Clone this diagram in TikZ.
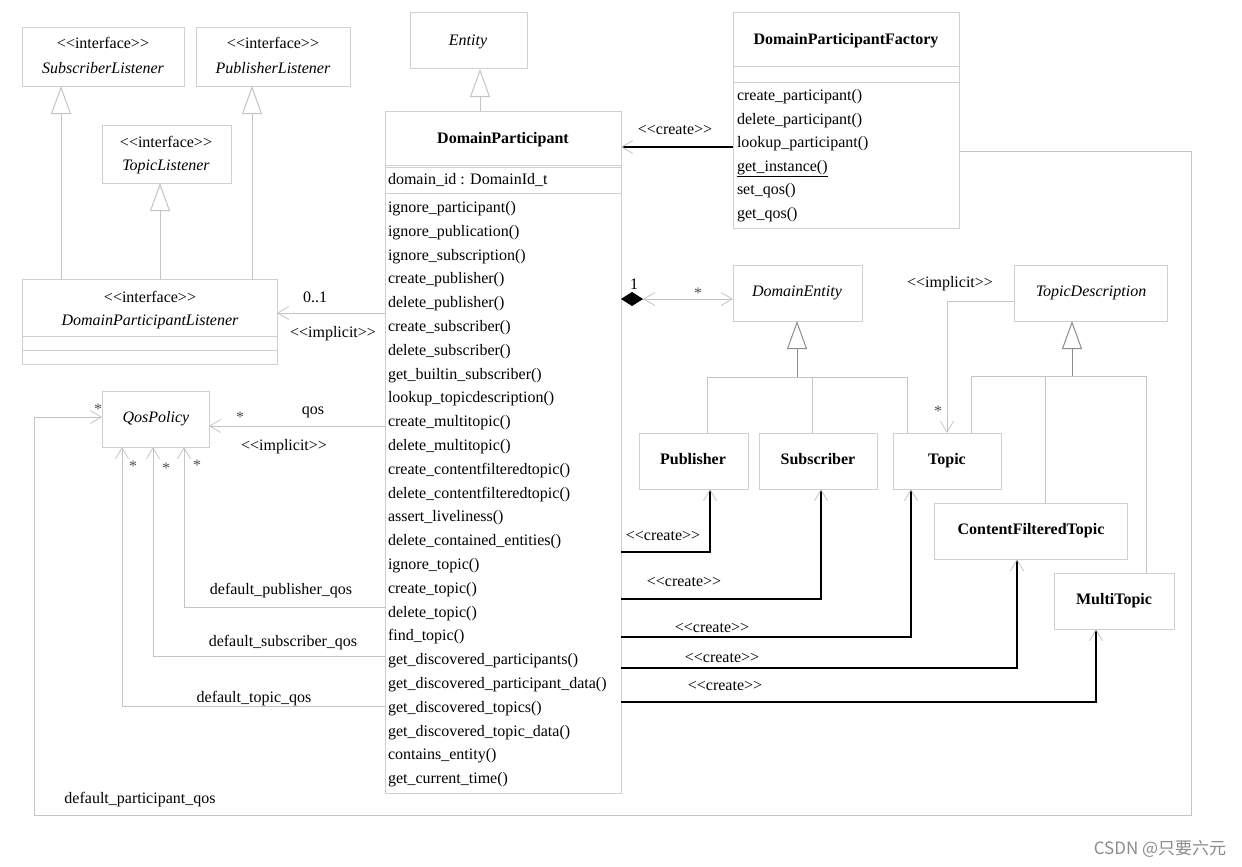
\documentclass[tikz,border=0pt]{standalone}
\usepackage{fontspec}
\setmainfont{Liberation Serif}
\newfontfamily\cjk{Noto Sans CJK SC}
\usetikzlibrary{arrows.meta,fit}
\definecolor{boxgray}{HTML}{D0D0D0}
\definecolor{lngray}{HTML}{C4C4C4}
\definecolor{midgray}{HTML}{8C8C8C}
\definecolor{stargray}{HTML}{505050}
\newcommand\stereo[1]{<\kern0pt<#1>\kern0pt>}
\begin{document}
\begin{tikzpicture}[x=1pt,y=-1pt,
  every node/.style={inner sep=0pt, outer sep=0pt, font=\fontsize{16}{24}\selectfont},
  box/.style={draw=boxgray, line width=1pt, inner sep=0pt},
  txt/.style={text height=13pt, text depth=2pt},
  meth/.style={txt, anchor=west},
  star/.style={txt, text=stargray},
  sep/.style={draw=boxgray, line width=1pt},
  gen/.style={draw=lngray, line width=1pt, -{Triangle[length=28pt, width=20pt, fill=white]}},
  genm/.style={draw=midgray, line width=1pt, -{Triangle[length=28pt, width=20pt, fill=white, color=midgray]}},
  tree/.style={draw=lngray, line width=1pt},
  assoc/.style={draw=lngray, line width=1pt, -{Straight Barb[length=11pt, width=13pt, line width=0.8pt]}},
  create/.style={draw=black, line width=1.6pt, -{Straight Barb[length=11pt, width=13pt, line width=0.8pt, color=lngray]}}
]
\useasboundingbox (0,0) rectangle (1242,867);

% ---------- listener interfaces ----------
\node[box, fit={(22,28) (184,86)}] (sl) {};
\node[txt] (slst) at (103,43) {\stereo{interface}};
\node[txt] (sln) at (103,68) {\textit{SubscriberListener}};
\node[box, fit={(196,28) (350,86)}] (pl) {};
\node[txt] (plst) at (273,43) {\stereo{interface}};
\node[txt] (pln) at (273,68) {\textit{PublisherListener}};
\node[box, fit={(102,125) (231,183)}] (tl) {};
\node[txt] (tlst) at (166,142) {\stereo{interface}};
\node[txt] (tln) at (166,165) {\textit{TopicListener}};
\node[box, fit={(22,279) (277,364)}] (dpl) {};
\node[txt] (dplst) at (150,297) {\stereo{interface}};
\node[txt] (dpln) at (150,320) {\textit{DomainParticipantListener}};
\draw[sep] (dpl.west |- 0,336) -- (dpl.east |- 0,336);
\draw[sep] (dpl.west |- 0,350) -- (dpl.east |- 0,350);

\draw[gen] (dpl.north -| 61,0) -- (sl.south -| 61,0);
\draw[gen] (dpl.north -| 252,0) -- (pl.south -| 252,0);
\draw[gen] (dpl.north -| 160,0) -- (tl.south -| 160,0);

% ---------- Entity ----------
\node[box, fit={(410,13) (527,69)}] (ent) {};
\node[txt] (entn) at (468,40) {\textit{Entity}};

% ---------- DomainParticipant ----------
\node[box, fit={(385,111) (621,793)}] (dp) {};
\node[txt] (dpn) at (503,138) {\textbf{DomainParticipant}};
\draw[sep] (dp.west |- 0,165) -- (dp.east |- 0,165);
\draw[sep] (dp.west |- 0,167) -- (dp.east |- 0,167);
\draw[sep] (dp.west |- 0,193) -- (dp.east |- 0,193);
\node[meth] (dpattr) at (388,179) {domain\_id : DomainId\_t};
\foreach \m [count=\i from 0] in {ignore\_participant(), ignore\_publication(), ignore\_subscription(), create\_publisher(), delete\_publisher(), create\_subscriber(), delete\_subscriber(), get\_builtin\_subscriber(), lookup\_topicdescription(), create\_multitopic(), delete\_multitopic(), create\_contentfilteredtopic(), delete\_contentfilteredtopic(), assert\_liveliness(), delete\_contained\_entities(), ignore\_topic(), create\_topic(), delete\_topic(), find\_topic(), get\_discovered\_participants(), get\_discovered\_participant\_data(), get\_discovered\_topics(), get\_discovered\_topic\_data(), contains\_entity(), get\_current\_time()}
  \node[meth] (dpm\i) at (388,{207+23.8*\i}) {\m};

\draw[gen] (dp.north -| 480,0) -- (ent.south -| 480,0);

% ---------- DomainParticipantFactory ----------
\node[box, fit={(733,13) (959,228)}] (fac) {};
\node[txt] (facn) at (846,39) {\textbf{DomainParticipantFactory}};
\draw[sep] (fac.west |- 0,67) -- (fac.east |- 0,67);
\draw[sep] (fac.west |- 0,82) -- (fac.east |- 0,82);
\foreach \m [count=\i from 0] in {create\_participant(), delete\_participant(), lookup\_participant(), \underline{get\_instance()}, set\_qos(), get\_qos()}
  \node[meth] (facm\i) at (737,{95+23.6*\i}) {\m};

\draw[create] (fac.west |- 0,147) -- (dp.east |- 0,147);
\node[txt] (lcrf) at (675,129) {\stereo{create}};

% ---------- DomainEntity / TopicDescription ----------
\node[box, fit={(733,265) (862,321)}] (de) {};
\node[txt] (den) at (797,291) {\textit{DomainEntity}};
\node[box, fit={(1014,265) (1167,321)}] (td) {};
\node[txt] (tdn) at (1091,291) {\textit{TopicDescription}};

\draw[draw=lngray, line width=1pt,
  {Diamond[length=22pt, width=14pt, fill=black, color=black] Straight Barb[length=11pt, width=13pt, line width=0.8pt, color=lngray]}-{Straight Barb[length=11pt, width=13pt, line width=0.8pt]}]
  (dp.east |- 0,299) -- (de.west |- 0,299);
\node[txt] (lone) at (634,284) {1};
\node[star] (lstde) at (698,293) {*};

% ---------- Publisher / Subscriber / Topic ----------
\node[box, fit={(639,433) (748,489)}] (pub) {};
\node[txt] (pubn) at (693,459) {\textbf{Publisher}};
\node[box, fit={(759,433) (877,489)}] (sub) {};
\node[txt] (subn) at (818,459) {\textbf{Subscriber}};
\node[box, fit={(893,433) (1001,489)}] (top) {};
\node[txt] (topn) at (947,459) {\textbf{Topic}};
\node[box, fit={(934,503) (1127,559)}] (cft) {};
\node[txt] (cftn) at (1031,529) {\textbf{ContentFilteredTopic}};
\node[box, fit={(1054,573) (1174,629)}] (mt) {};
\node[txt] (mtn) at (1114,599) {\textbf{MultiTopic}};

% generalization DomainEntity
\draw[tree] (pub.north -| 707,0) -- (707,377) -- (907,377) -- (top.north -| 907,0);
\draw[tree] (812,377) -- (sub.north -| 812,0);
\draw[genm] (797,377) -- (de.south -| 797,0);
% generalization TopicDescription
\draw[tree] (top.north -| 971,0) -- (971,376) -- (1146,376) -- (mt.north -| 1146,0);
\draw[tree] (1045,376) -- (cft.north -| 1045,0);
\draw[genm] (1072,376) -- (td.south -| 1072,0);

% implicit TopicDescription -> Topic
\draw[assoc] (td.west |- 0,301) -| (top.north -| 947,0);
\node[txt] (limptd) at (950,282) {\stereo{implicit}};
\node[star] (lsttop) at (938,411) {*};

% create arrows
\draw[create] (dp.east |- 0,552) -| (pub.south -| 710,0);
\node[txt] (lcr1) at (663,535) {\stereo{create}};
\draw[create] (dp.east |- 0,599) -| (sub.south -| 821,0);
\node[txt] (lcr2) at (684,581) {\stereo{create}};
\draw[create] (dp.east |- 0,637) -| (top.south -| 911,0);
\node[txt] (lcr3) at (712,627) {\stereo{create}};
\draw[create] (dp.east |- 0,668) -| (cft.south -| 1017,0);
\node[txt] (lcr4) at (722,657) {\stereo{create}};
\draw[create] (dp.east |- 0,702) -| (mt.south -| 1096,0);
\node[txt] (lcr5) at (725,685) {\stereo{create}};

% ---------- DomainParticipantListener association ----------
\draw[assoc] (dp.west |- 0,313) -- (dpl.east |- 0,313);
\node[txt] (l01) at (315,297) {0..1};
\node[txt] (limpl) at (333,332) {\stereo{implicit}};

% ---------- QosPolicy ----------
\node[box, fit={(102,391) (209,447)}] (qos) {};
\node[txt] (qosn) at (156,417) {\textit{QosPolicy}};
\draw[assoc] (dp.west |- 0,426) -- (qos.east |- 0,426);
\node[txt] (lqos) at (313,409) {qos};
\node[star] (lstq) at (240,417) {*};
\node[txt] (limpq) at (284,445) {\stereo{implicit}};

\draw[assoc] (dp.west |- 0,607) -| (qos.south -| 184,0);
\node[txt] (ldpq) at (281,589) {default\_publisher\_qos};
\node[star] (lst1) at (197,465) {*};
\draw[assoc] (dp.west |- 0,656) -| (qos.south -| 153,0);
\node[txt] (ldsq) at (283,641) {default\_subscriber\_qos};
\node[star] (lst2) at (166,468) {*};
\draw[assoc] (dp.west |- 0,706) -| (qos.south -| 122,0);
\node[txt] (ldtq) at (254,697) {default\_topic\_qos};
\node[star] (lst3) at (133,466) {*};

\draw[assoc] (fac.east |- 0,151) -- (1191,151) -- (1191,815) -- (34,815) -- (34,417) -- (qos.west |- 0,417);
\node[txt] (ldpartq) at (140,798) {default\_participant\_qos};
\node[star] (lst4) at (98,409) {*};

% watermark
\node[font=\cjk\fontsize{17}{17}\selectfont, text=black!45] (wm) at (1160,849) {CSDN @只要六元};
\end{tikzpicture}
\end{document}
